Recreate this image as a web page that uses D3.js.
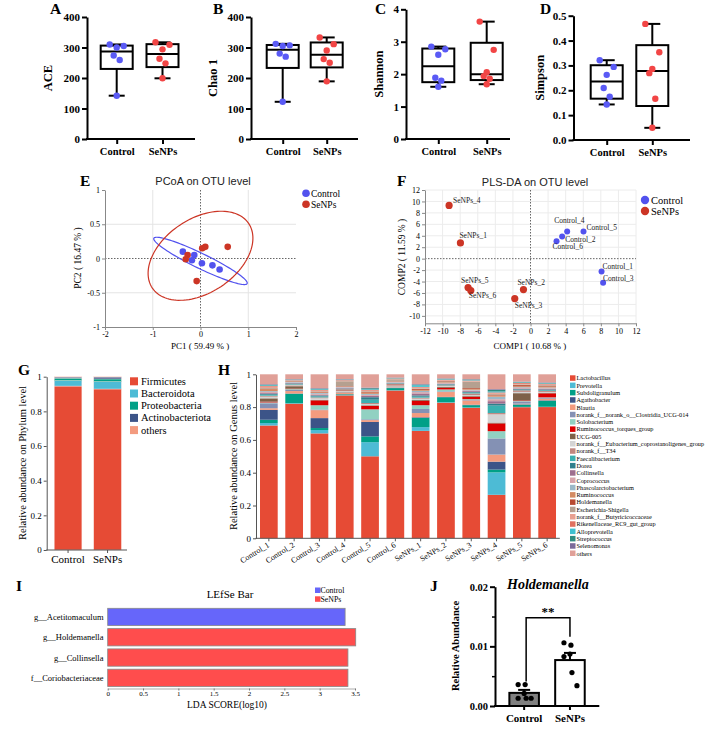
<!DOCTYPE html>
<html>
<head>
<meta charset="utf-8">
<script src="https://cdn.jsdelivr.net/npm/d3@7"></script>
<style>
  body { margin: 0; background: #fff; }
  svg { display: block; }
</style>
</head>
<body>
<svg width="715" height="732"></svg>
<script>
// ---------- data ----------
const groups = ['Control', 'SeNPs'];

const aceControl = [310, 305, 300, 274, 259, 142];
const aceSeNPs = [317, 309, 294, 263, 248, 199];
const chaoControl = [312, 307, 305, 280, 270, 122];
const chaoSeNPs = [333, 311, 290, 262, 250, 189];
const shannonControl = [2.85, 2.77, 2.60, 1.89, 1.80, 1.61];
const shannonSeNPs = [3.62, 2.75, 2.06, 1.94, 1.86, 1.69];
const simpsonControl = [0.321, 0.294, 0.262, 0.209, 0.174, 0.143];
const simpsonSeNPs = [0.467, 0.353, 0.286, 0.269, 0.166, 0.049];

// PCoA (PC1, PC2)
const pcoaControl = [[-0.37, 0.10], [-0.13, 0.05], [-0.18, -0.025], [0.03, -0.07], [0.25, -0.10], [0.40, -0.16]];
const pcoaSeNPs = [[0.036, 0.15], [0.10, 0.17], [0.57, 0.17], [-0.27, 0.05], [-0.31, -0.01], [-0.08, -0.33]];
// confidence ellipses: centre + two semi-axis vectors, in data units
const pcoaEllipses = [
  { group: 'Control', center: [0, -0.035], u: [0.977, -0.331], v: [-0.069, -0.098] },
  { group: 'SeNPs', center: [0, 0.04], u: [1.008, 0.472], v: [0.434, -0.447] }
];

// PLS-DA (COMP1, COMP2), samples 1..6
const plsControlX = [8.08, 3.60, 8.26, 4.17, 6.03, 2.96];
const plsControlY = [-2.23, 3.86, -4.22, 4.74, 4.74, 3.04];
const plsSeNPsX = [-7.97, -0.80, -1.79, -9.26, -7.10, -6.79];
const plsSeNPsY = [2.75, -5.40, -6.98, 9.31, -5.04, -5.57];

// phylum level
const phyla = ['Firmicutes', 'Bacteroidota', 'Proteobacteria', 'Actinobacteriota', 'others'];
const phylumControl = [0.946, 0.031, 0.015, 0.006, 0.002];
const phylumSeNPs = [0.929, 0.042, 0.016, 0.011, 0.002];

// genus level
const samples = ['Control_1', 'Control_2', 'Control_3', 'Control_4', 'Control_5', 'Control_6',
  'SeNPs_1', 'SeNPs_2', 'SeNPs_3', 'SeNPs_4', 'SeNPs_5', 'SeNPs_6'];
const genera = ['Lactobacillus', 'Prevotella', 'Subdoligranulum', 'Agathobacter', 'Blautia',
  'norank_f__norank_o__Clostridia_UCG-014', 'Solobacterium', 'Ruminococcus_torques_group', 'UCG-005',
  'norank_f__Eubacterium_coprostanoligenes_group', 'norank_f__T34', 'Faecalibacterium', 'Dorea',
  'Collinsella', 'Coprococcus', 'Phascolarctobacterium', 'Ruminococcus', 'Holdemanella',
  'Escherichia-Shigella', 'norank_f__Butyricicoccaceae', 'Rikenellaceae_RC9_gut_group',
  'Alloprevotella', 'Streptococcus', 'Selenomonas', 'others'];
// one row per genus, one column per sample
const genusAbundance = [
  [.685, .827, .644, .884, .494, .920, .657, .833, .803, .264, .813, .813],
  [.015, .003, .021, .002, .085, .002, .023, .003, .002, .136, .002, .002],
  [.020, .058, .012, .005, .035, .013, .056, .031, .014, .017, .014, .037],
  [.060, .002, .061, .001, .087, .001, .004, .002, .003, .048, .002, .003],
  [.010, .015, .049, .008, .011, .003, .026, .030, .026, .043, .004, .010],
  [.030, .008, .004, .002, .005, .002, .025, .004, .004, .098, .013, .005],
  [.005, .004, .026, .002, .060, .002, .023, .012, .004, .044, .003, .003],
  [.005, .003, .030, .001, .020, .001, .027, .010, .015, .047, .004, .025],
  [.020, .015, .003, .002, .004, .002, .005, .005, .004, .005, .045, .004],
  [.010, .005, .010, .004, .008, .004, .008, .006, .006, .050, .008, .005],
  [.006, .005, .005, .012, .006, .012, .006, .004, .010, .008, .010, .006],
  [.006, .004, .006, .002, .020, .002, .006, .004, .005, .045, .003, .004],
  [.006, .003, .006, .002, .015, .002, .008, .003, .005, .012, .004, .005],
  [.005, .003, .004, .003, .008, .002, .012, .003, .005, .015, .004, .004],
  [.006, .003, .006, .004, .006, .003, .008, .004, .004, .012, .004, .004],
  [.005, .003, .005, .003, .006, .004, .008, .003, .004, .015, .004, .004],
  [.012, .003, .004, .003, .008, .003, .006, .004, .005, .008, .005, .006],
  [.003, .002, .003, .002, .004, .002, .006, .004, .005, .005, .008, .006],
  [.004, .002, .004, .030, .004, .010, .003, .003, .040, .004, .004, .003],
  [.008, .002, .004, .004, .004, .003, .005, .004, .004, .005, .004, .004],
  [.004, .002, .004, .003, .004, .002, .004, .003, .003, .004, .006, .004],
  [.004, .002, .004, .002, .004, .002, .010, .003, .003, .006, .003, .003],
  [.004, .002, .004, .002, .006, .002, .004, .003, .003, .010, .003, .003],
  [.003, .002, .003, .002, .004, .002, .003, .002, .002, .004, .002, .003],
  [.060, .030, .085, .030, .080, .020, .060, .025, .030, .090, .045, .050]
];

// LEfSe
const lefseFeatures = ['g__Acetitomaculum', 'g__Holdemanella', 'g__Collinsella', 'f__Coriobacteriaceae'];
const lefseGroup = ['Control', 'SeNPs', 'SeNPs', 'SeNPs'];
const lefseLDA = [3.36, 3.51, 3.40, 3.40];

// Holdemanella relative abundance
const holdControl = [0.0036, 0.0036, 0.0021, 0.0013, 0.0013, 0.0013];
const holdSeNPs = [0.0106, 0.0102, 0.0087, 0.0083, 0.0056, 0.0034];
const holdMean = [0.0022, 0.0077];
const holdSem = [0.0005, 0.0012];

// ---------- setup ----------
const svg = d3.select('svg');
svg.append('rect').attr('width', 715).attr('height', 732).attr('fill', '#fff');

const serif = '"Liberation Serif", "Times New Roman", serif';
const sans = '"Liberation Sans", Arial, sans-serif';
const dotColor = { Control: '#5a5af5', SeNPs: '#f24545' };
const ordColor = { Control: '#5252ee', SeNPs: '#cc3525' };

function txt(parent, x, y, s, size, opts = {}) {
  return parent.append('text')
    .attr('x', x).attr('y', y)
    .attr('text-anchor', opts.anchor || 'start')
    .attr('fill', opts.fill || '#000')
    .style('font-family', opts.family || serif)
    .style('font-size', size + 'px')
    .style('font-weight', opts.bold ? 'bold' : 'normal')
    .style('font-style', opts.italic ? 'italic' : 'normal')
    .text(s);
}

function vtxt(parent, x, y, s, size, opts = {}) {
  return txt(parent, 0, 0, s, size, Object.assign({ anchor: 'middle' }, opts))
    .attr('dominant-baseline', 'central')
    .attr('transform', `translate(${x},${y}) rotate(-90)`);
}

function styleAxis(g, o) {
  g.select('.domain').attr('stroke', o.color || '#000').attr('stroke-width', o.width || 1);
  g.selectAll('.tick line').attr('stroke', o.color || '#000').attr('stroke-width', o.width || 1);
  g.selectAll('.tick text')
    .attr('fill', '#000')
    .style('font-family', o.family || serif)
    .style('font-size', o.font + 'px')
    .style('font-weight', o.bold ? 'bold' : 'normal');
}

// GraphPad style quartiles: position (n+1)p
function quart(arr, p) {
  const s = arr.slice().sort(d3.ascending);
  const pos = (s.length + 1) * p - 1;
  const lo = Math.max(0, Math.floor(pos)), hi = Math.min(s.length - 1, Math.ceil(pos));
  return s[lo] + (pos - lo) * (s[hi] - s[lo]);
}

const plain = d => String(d);

// panel letters
[['A', 50, 14], ['B', 213, 14], ['C', 375, 14], ['D', 540, 14], ['E', 80, 186], ['F', 397, 186],
 ['G', 18, 375], ['H', 218, 375], ['I', 16, 591], ['J', 430, 591]]
  .forEach(([t, x, y]) => txt(svg, x, y, t, 15.5, { bold: true }));

// ---------- A-D box plots ----------
const jitter = [-7, 7, 0, -3, 3, 0];
const boxPanels = [
  { label: 'ACE', values: [aceControl, aceSeNPs], domain: [0, 400], ticks: [0, 100, 200, 300, 400], fmt: plain,
    x0: 87, x1: 195, top: 17, bottom: 139, centers: [116.7, 162.5], lx: 48 },
  { label: 'Chao 1', values: [chaoControl, chaoSeNPs], domain: [0, 400], ticks: [0, 100, 200, 300, 400], fmt: plain,
    x0: 251, x1: 358, top: 17, bottom: 139, centers: [282.7, 326.7], lx: 213 },
  { label: 'Shannon', values: [shannonControl, shannonSeNPs], domain: [0, 4], ticks: [0, 1, 2, 3, 4], fmt: plain,
    x0: 406, x1: 510, top: 9.3, bottom: 139, centers: [438.3, 486.7], lx: 379 },
  { label: 'Simpson', values: [simpsonControl, simpsonSeNPs], domain: [0, 0.5], ticks: [0, .1, .2, .3, .4, .5], fmt: d3.format('.1f'),
    x0: 573.5, x1: 690, top: 15.7, bottom: 140, centers: [606.7, 652.3], lx: 540 }
];

boxPanels.forEach(p => {
  const y = d3.scaleLinear().domain(p.domain).range([p.bottom, p.top]);
  const x = d3.scalePoint().domain(groups).range(p.centers);
  const g = svg.append('g');

  const ya = g.append('g').attr('transform', `translate(${p.x0},0)`)
    .call(d3.axisLeft(y).tickValues(p.ticks).tickFormat(p.fmt).tickSize(5).tickSizeOuter(0).tickPadding(2));
  styleAxis(ya, { width: 2, font: 11, bold: true });
  g.append('line').attr('x1', p.x0 - 1).attr('x2', p.x1).attr('y1', p.bottom).attr('y2', p.bottom)
    .attr('stroke', '#000').attr('stroke-width', 2);
  const xa = g.append('g').attr('transform', `translate(0,${p.bottom})`)
    .call(d3.axisBottom(x).tickSize(5).tickPadding(4));
  xa.select('.domain').remove();
  styleAxis(xa, { width: 2, font: 10.5, bold: true });

  vtxt(g, p.lx, (p.top + p.bottom) / 2, p.label, 12.5, { bold: true });

  groups.forEach((grp, i) => {
    const vals = p.values[i];
    const q1 = quart(vals, 0.25), med = quart(vals, 0.5), q3 = quart(vals, 0.75);
    const lo = d3.min(vals), hi = d3.max(vals);
    const cx = x(grp);
    const line = (x1, y1, x2, y2) => g.append('line').attr('x1', x1).attr('y1', y1).attr('x2', x2).attr('y2', y2)
      .attr('stroke', '#000').attr('stroke-width', 2);
    line(cx, y(hi), cx, y(q3));
    line(cx, y(q1), cx, y(lo));
    line(cx - 8, y(hi), cx + 8, y(hi));
    line(cx - 8, y(lo), cx + 8, y(lo));
    g.append('rect').attr('x', cx - 16).attr('y', y(q3)).attr('width', 32).attr('height', y(q1) - y(q3))
      .attr('fill', 'none').attr('stroke', '#000').attr('stroke-width', 2);
    line(cx - 16, y(med), cx + 16, y(med));
    g.selectAll(null).data(vals).join('circle')
      .attr('cx', (d, j) => cx + jitter[j])
      .attr('cy', d => y(d))
      .attr('r', 3.2)
      .attr('fill', dotColor[grp]);
  });
});

// ---------- E: PCoA ----------
{
  const x = d3.scaleLinear().domain([-2, 2]).range([105, 296]);
  const y = d3.scaleLinear().domain([-1, 1]).range([327, 190]);
  const g = svg.append('g');
  g.selectAll(null).data([-1, 1]).join('line')
    .attr('x1', d => x(d)).attr('x2', d => x(d)).attr('y1', y(1)).attr('y2', y(-1))
    .attr('stroke', '#e4e4e4');
  g.selectAll(null).data([-0.5, 0.5]).join('line')
    .attr('x1', x(-2)).attr('x2', x(2)).attr('y1', d => y(d)).attr('y2', d => y(d))
    .attr('stroke', '#e4e4e4');
  g.append('line').attr('x1', x(0)).attr('x2', x(0)).attr('y1', y(1)).attr('y2', y(-1))
    .attr('stroke', '#666').attr('stroke-dasharray', '1.5,1.5');
  g.append('line').attr('x1', x(-2)).attr('x2', x(2)).attr('y1', y(0)).attr('y2', y(0))
    .attr('stroke', '#666').attr('stroke-dasharray', '1.5,1.5');

  const xa = g.append('g').attr('transform', `translate(0,${y(-1)})`)
    .call(d3.axisBottom(x).tickValues([-2, -1, 0, 1, 2]).tickFormat(plain).tickSize(3).tickSizeOuter(0).tickPadding(1.5));
  styleAxis(xa, { color: '#888', font: 8 });
  const ya = g.append('g').attr('transform', `translate(${x(-2)},0)`)
    .call(d3.axisLeft(y).tickValues([-1, -0.5, 0, 0.5, 1]).tickFormat(plain).tickSize(3).tickSizeOuter(0).tickPadding(2));
  styleAxis(ya, { color: '#888', font: 8 });

  const t = d3.range(0, 2 * Math.PI + 0.01, Math.PI / 60);
  pcoaEllipses.forEach(e => {
    const pts = t.map(a => [e.center[0] + e.u[0] * Math.cos(a) + e.v[0] * Math.sin(a),
                            e.center[1] + e.u[1] * Math.cos(a) + e.v[1] * Math.sin(a)]);
    g.append('path').datum(pts)
      .attr('d', d3.line().x(d => x(d[0])).y(d => y(d[1])))
      .attr('fill', 'none').attr('stroke', ordColor[e.group]).attr('stroke-width', 1.2);
  });
  [['Control', pcoaControl], ['SeNPs', pcoaSeNPs]].forEach(([grp, pts]) => {
    g.selectAll(null).data(pts).join('circle')
      .attr('cx', d => x(d[0])).attr('cy', d => y(d[1])).attr('r', 3.3)
      .attr('fill', ordColor[grp]);
  });

  txt(g, 203, 185, 'PCoA on OTU level', 11, { anchor: 'middle', family: sans, fill: '#222' });
  vtxt(g, 78, 258, 'PC2 ( 16.47 % )', 9.5);
  txt(g, 200, 348.5, 'PC1 ( 59.49 % )', 9, { anchor: 'middle' });
  groups.forEach((grp, i) => {
    g.append('circle').attr('cx', 306).attr('cy', 193.3 + i * 11).attr('r', 3.8).attr('fill', ordColor[grp]);
    txt(g, 311, 193.3 + i * 11 + 3.3, grp, 9.5);
  });
}

// ---------- F: PLS-DA ----------
{
  const x = d3.scaleLinear().domain([-12, 12]).range([425, 636]);
  const y = d3.scaleLinear().domain([-11.3, 12]).range([323.3, 190]);
  const g = svg.append('g');
  const xt = d3.range(-12, 13, 2), yt = d3.range(-10, 13, 2);
  g.selectAll(null).data(xt.filter(d => d !== 0 && d !== -12)).join('line')
    .attr('x1', d => x(d)).attr('x2', d => x(d)).attr('y1', y(12)).attr('y2', y(-11.3))
    .attr('stroke', '#ececec');
  g.selectAll(null).data(yt.filter(d => d !== 0)).join('line')
    .attr('x1', x(-12)).attr('x2', x(12)).attr('y1', d => y(d)).attr('y2', d => y(d))
    .attr('stroke', '#ececec');
  g.append('line').attr('x1', x(0)).attr('x2', x(0)).attr('y1', y(12)).attr('y2', y(-11.3))
    .attr('stroke', '#666').attr('stroke-dasharray', '1.5,1.5');
  g.append('line').attr('x1', x(-12)).attr('x2', x(12)).attr('y1', y(0)).attr('y2', y(0))
    .attr('stroke', '#666').attr('stroke-dasharray', '1.5,1.5');

  const xa = g.append('g').attr('transform', `translate(0,${y(-11.3)})`)
    .call(d3.axisBottom(x).tickValues(xt).tickFormat(plain).tickSize(3).tickSizeOuter(0).tickPadding(2));
  styleAxis(xa, { color: '#888', font: 8 });
  const ya = g.append('g').attr('transform', `translate(${x(-12)},0)`)
    .call(d3.axisLeft(y).tickValues(yt).tickFormat(plain).tickSize(3).tickSizeOuter(0).tickPadding(2));
  styleAxis(ya, { color: '#888', font: 8 });

  const nudge = {
    Control: [[1, -2], [3, 5], [0, -2], [-13, -9], [3, -2], [-4, 8]],
    SeNPs: [[-1, -5], [-6, -5], [0, 9], [4, -2], [-7, -4.5], [-2, 7]]
  };
  [['Control', plsControlX, plsControlY], ['SeNPs', plsSeNPsX, plsSeNPsY]].forEach(([grp, xs, ys]) => {
    xs.forEach((v, i) => {
      g.append('circle').attr('cx', x(v)).attr('cy', y(ys[i])).attr('r', grp === 'SeNPs' ? 3.6 : 3)
        .attr('fill', ordColor[grp]);
      txt(g, x(v) + nudge[grp][i][0], y(ys[i]) + nudge[grp][i][1], `${grp}_${i + 1}`, 7.5, { fill: '#222' });
    });
  });

  txt(g, 535, 186, 'PLS-DA on OTU level', 11, { anchor: 'middle', family: sans, fill: '#222' });
  vtxt(g, 402, 257, 'COMP2 ( 11.59 % )', 9.5);
  txt(g, 530, 348.5, 'COMP1 ( 10.68 % )', 9, { anchor: 'middle' });
  groups.forEach((grp, i) => {
    g.append('circle').attr('cx', 645).attr('cy', 200 + i * 11).attr('r', 4.2).attr('fill', ordColor[grp]);
    txt(g, 651, 200 + i * 11 + 3.5, grp, 10.5);
  });
}

// ---------- G: phylum stacked bars ----------
const phylumColors = ['#E64B35', '#4DBBD5', '#00A087', '#3C5488', '#F39B7F'];
{
  const x = d3.scaleBand().domain(groups).range([48.3, 127.3]).paddingInner(0.3).paddingOuter(0.15);
  const y = d3.scaleLinear().domain([0, 1]).range([550, 376.7]);
  const g = svg.append('g');
  const rows = groups.map((grp, i) => {
    const o = { group: grp };
    const vals = i === 0 ? phylumControl : phylumSeNPs;
    phyla.forEach((p, j) => o[p] = vals[j]);
    return o;
  });
  const series = d3.stack().keys(phyla)(rows);
  g.selectAll(null).data(series).join('g')
    .attr('fill', (d, i) => phylumColors[i])
    .selectAll('rect').data(d => d).join('rect')
    .attr('x', d => x(d.data.group)).attr('width', x.bandwidth())
    .attr('y', d => y(d[1])).attr('height', d => y(d[0]) - y(d[1]))
    .attr('stroke', '#fbe9e6').attr('stroke-width', 0.4);

  const ya = g.append('g').attr('transform', 'translate(46.7,0)')
    .call(d3.axisLeft(y).tickValues([0, .2, .4, .6, .8, 1]).tickFormat(plain).tickSize(3).tickSizeOuter(0).tickPadding(2));
  styleAxis(ya, { color: '#555', font: 9 });
  const xa = g.append('g').attr('transform', 'translate(0,550)')
    .call(d3.axisBottom(x).tickSize(3).tickSizeOuter(0).tickPadding(2));
  styleAxis(xa, { color: '#555', font: 11 });
  xa.select('.domain').attr('d', 'M46.2,0H127');

  vtxt(g, 22, 463, 'Relative abundance on Phylum level', 10.5);
  phyla.forEach((p, i) => {
    g.append('rect').attr('x', 130).attr('y', 377.3 + i * 12.2).attr('width', 8).attr('height', 8).attr('fill', phylumColors[i]);
    txt(g, 141, 384.8 + i * 12.2, p, 10.5);
  });
}

// ---------- H: genus stacked bars ----------
const genusColors = ['#E64B35', '#4DBBD5', '#00A087', '#3C5488', '#F39B7F', '#8491B4', '#91D1C2', '#DC0000',
  '#7E6148', '#D4D4D4', '#C0877F', '#3AB0B0', '#2F7F8C', '#9E6E8E', '#D7A3AA', '#9BB8C8', '#D48A62',
  '#B84A30', '#B5A090', '#E8A090', '#E07060', '#40C0D0', '#308C80', '#7A6A9A', '#E0A098'];
{
  const x = d3.scaleBand().domain(samples).range([256.2, 559.8]).paddingInner(0.3).paddingOuter(0.15);
  const y = d3.scaleLinear().domain([0, 1]).range([538.3, 374.3]);
  const g = svg.append('g');
  const rows = samples.map((s, i) => {
    const o = { sample: s };
    genera.forEach((gn, j) => o[gn] = genusAbundance[j][i]);
    return o;
  });
  const series = d3.stack().keys(genera).offset(d3.stackOffsetExpand)(rows);
  g.selectAll(null).data(series).join('g')
    .attr('fill', (d, i) => genusColors[i])
    .selectAll('rect').data(d => d).join('rect')
    .attr('x', d => x(d.data.sample)).attr('width', x.bandwidth())
    .attr('y', d => y(d[1])).attr('height', d => y(d[0]) - y(d[1]));

  const ya = g.append('g').attr('transform', 'translate(256,0)')
    .call(d3.axisLeft(y).tickValues([0, .2, .4, .6, .8, 1]).tickFormat(plain).tickSize(3).tickSizeOuter(0).tickPadding(2));
  styleAxis(ya, { color: '#555', font: 9 });
  const xa = g.append('g').attr('transform', 'translate(0,538.3)')
    .call(d3.axisBottom(x).tickSize(3).tickSizeOuter(0));
  styleAxis(xa, { color: '#555', font: 8 });
  xa.select('.domain').attr('d', 'M255.5,0H559.8');
  xa.selectAll('.tick text')
    .attr('text-anchor', 'end').attr('dy', 0).attr('y', 0)
    .attr('transform', 'translate(1,8) rotate(-32)');

  vtxt(g, 233, 456, 'Relative abundance on Genus level', 10.5);
  genera.forEach((gn, i) => {
    g.append('rect').attr('x', 570).attr('y', 375.3 + i * 7.3).attr('width', 5.5).attr('height', 5.5).attr('fill', genusColors[i]);
    txt(g, 576.5, 380.3 + i * 7.3, gn, 6.3);
  });
}

// ---------- I: LEfSe ----------
{
  const x = d3.scaleLinear().domain([0, 3.5]).range([107.7, 355]);
  const y = d3.scaleBand().domain(lefseFeatures).range([606.8, 688]).paddingInner(0.148).paddingOuter(0.074);
  const g = svg.append('g');
  const fill = { Control: '#6666fa', SeNPs: '#ff4d4d' };
  g.selectAll(null).data(lefseFeatures).join('rect')
    .attr('x', x(0)).attr('y', d => y(d)).attr('height', y.bandwidth())
    .attr('width', (d, i) => x(lefseLDA[i]) - x(0))
    .attr('fill', (d, i) => fill[lefseGroup[i]])
    .attr('stroke', '#888').attr('stroke-width', 0.8);
  lefseFeatures.forEach(f => txt(g, 103.5, y(f) + y.bandwidth() / 2 + 3, f, 8.5, { anchor: 'end' }));

  const xa = g.append('g').attr('transform', 'translate(0,688.5)')
    .call(d3.axisBottom(x).tickValues(d3.range(0, 3.51, 0.5)).tickFormat(plain).tickSize(2).tickSizeOuter(0).tickPadding(1));
  styleAxis(xa, { color: '#777', font: 7 });
  xa.select('.domain').attr('stroke-width', 0.6);

  txt(g, 227, 707.5, 'LDA SCORE(log10)', 9.5, { anchor: 'middle' });
  txt(g, 230, 597.5, 'LEfSe Bar', 11, { anchor: 'middle' });
  groups.forEach((grp, i) => {
    g.append('rect').attr('x', 315).attr('y', 587.5 + i * 8.8).attr('width', 5.5).attr('height', 5.5).attr('fill', fill[grp]);
    txt(g, 320.5, 592.8 + i * 8.8, grp, 7.8);
  });
}

// ---------- J: Holdemanella ----------
{
  const x = d3.scaleBand().domain(groups).range([494.8, 599.3]).paddingInner(0.355).paddingOuter(0.318);
  const y = d3.scaleLinear().domain([0, 0.02]).range([706, 586.7]);
  const g = svg.append('g');
  const fills = ['#808080', '#fff'];
  groups.forEach((grp, i) => {
    const bx = x(grp), bw = x.bandwidth(), cx = bx + bw / 2;
    g.append('rect').attr('x', bx).attr('y', y(holdMean[i])).attr('width', bw).attr('height', y(0) - y(holdMean[i]))
      .attr('fill', fills[i]).attr('stroke', '#000').attr('stroke-width', 2);
    const top = y(holdMean[i] + holdSem[i]);
    g.append('line').attr('x1', cx).attr('x2', cx).attr('y1', y(holdMean[i])).attr('y2', top).attr('stroke', '#000').attr('stroke-width', 2);
    g.append('line').attr('x1', cx - 6).attr('x2', cx + 6).attr('y1', top).attr('y2', top).attr('stroke', '#000').attr('stroke-width', 2);
    const pts = i === 0 ? holdControl : holdSeNPs;
    const jit = [-6, 1, 0, -6, 2, 7];
    g.selectAll(null).data(pts).join('circle')
      .attr('cx', (d, j) => cx + jit[j]).attr('cy', d => y(d)).attr('r', 2.6).attr('fill', '#000');
  });

  const ya = g.append('g').attr('transform', 'translate(495,0)')
    .call(d3.axisLeft(y).tickValues([0, 0.01, 0.02]).tickFormat(d3.format('.2f')).tickSize(5).tickSizeOuter(0).tickPadding(2));
  styleAxis(ya, { width: 2, font: 10.5, bold: true });
  const yminor = g.append('g').attr('transform', 'translate(495,0)')
    .call(d3.axisLeft(y).tickValues([0.005, 0.015]).tickFormat('').tickSize(3).tickSizeOuter(0));
  yminor.select('.domain').remove();
  styleAxis(yminor, { width: 1.5, font: 1 });
  g.append('line').attr('x1', 494).attr('x2', 599.3).attr('y1', 706).attr('y2', 706).attr('stroke', '#000').attr('stroke-width', 2);
  const xa = g.append('g').attr('transform', 'translate(0,706)')
    .call(d3.axisBottom(x).tickSize(4).tickPadding(4));
  xa.select('.domain').remove();
  styleAxis(xa, { width: 2, font: 11, bold: true });

  // significance bracket
  const c0 = x('Control') + x.bandwidth() / 2, c1 = x('SeNPs') + x.bandwidth() / 2;
  g.append('path')
    .attr('d', `M${c0 + 2},${y(0.0041)}V${y(0.0148)}H${c1}V${y(0.0116)}`)
    .attr('fill', 'none').attr('stroke', '#000').attr('stroke-width', 1.5);
  txt(g, (c0 + c1) / 2 + 1, 616, '**', 13, { anchor: 'middle', bold: true });

  txt(g, 507, 588.5, 'Holdemanella', 14, { bold: true, italic: true });
  vtxt(g, 455, 646, 'Relative Abundance', 10.5, { bold: true });
}
</script>
</body>
</html>
